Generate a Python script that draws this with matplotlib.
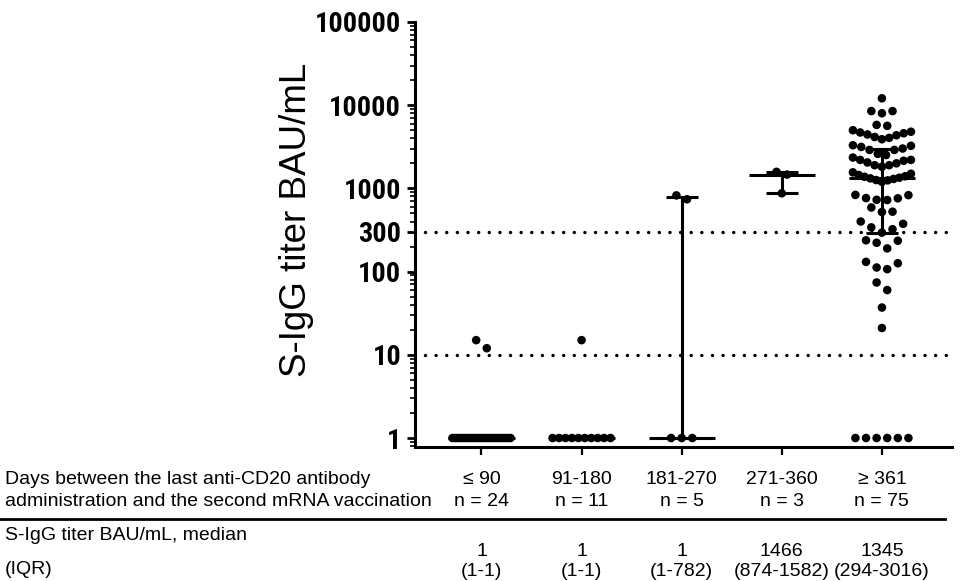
import numpy as np
import matplotlib
matplotlib.use("Agg")
import matplotlib.pyplot as plt
from matplotlib.ticker import LogLocator, NullFormatter, FixedLocator, FixedFormatter
from matplotlib.transforms import blended_transform_factory
from matplotlib.font_manager import FontProperties, fontManager, weight_dict
from matplotlib.textpath import TextPath

# ---------------- data ----------------
categories = ["\u2264 90", "91-180", "181-270", "271-360", "\u2265 361"]
n_labels = ["n = 24", "n = 11", "n = 5", "n = 3", "n = 75"]
median_labels = ["1", "1", "1", "1466", "1345"]
iqr_labels = ["(1-1)", "(1-1)", "(1-782)", "(874-1582)", "(294-3016)"]

medians = [1, 1, 1, 1466, 1345]
q1 = [1, 1, 1, 874, 294]
q3 = [1, 1, 782, 1582, 3016]

g_le90 = [1] * 22 + [12, 15]
g_91_180 = [1] * 10 + [15]
g_181_270 = [1, 1, 1, 740, 824]
g_271_360 = [874, 1466, 1582]
g_ge361 = ([1] * 6 +
           [21, 37, 60, 74,
            107, 112, 126, 131,
            190, 222, 235, 238,
            294, 323, 340, 375, 400,
            520, 525, 590,
            725, 730, 760, 765, 830, 835,
            1200, 1250, 1260, 1300, 1320, 1345, 1380, 1400, 1450, 1500, 1560,
            1820, 1900, 1900, 2000, 2050, 2150, 2200, 2200, 2350,
            2520, 2600, 2900, 2900, 3016, 3150, 3250, 3300,
            3900, 4050, 4150, 4350, 4450, 4600, 4700, 4800, 5000,
            5650, 5800,
            8000, 8500, 8500,
            12100])
groups = [g_le90, g_91_180, g_181_270, g_271_360, g_ge361]

thresholds = [10, 300]
ytick_vals = [1, 10, 100, 300, 1000, 10000, 100000]
ytick_labels = ["1", "10", "100", "300", "1000", "10000", "100000"]


# ---------------- pick a narrow bold font for tick labels ----------------
def _w(f):
    w = f.weight
    if isinstance(w, str):
        w = weight_dict.get(w, 400)
    return w


def pick_tick_font(target_w=83.0, target_h=20.5):
    best = None
    seen = set()
    for f in fontManager.ttflist:
        name = f.name
        if "Mono" in name or "CJK" in name or "Serif" in name:
            continue
        if not ("Sans" in name or name in ("Roboto", "Roboto Condensed", "Lato", "Inter", "Arimo")):
            continue
        wt = _w(f)
        if f.style != "normal" or wt < 600:
            continue
        if f.fname in seen:
            continue
        seen.add(f.fname)
        try:
            tp = TextPath((0, 0), "100000", prop=FontProperties(fname=f.fname), size=100)
            bb = tp.get_extents()
        except Exception:
            continue
        if bb.height <= 0:
            continue
        ratio = bb.width / bb.height
        score = abs(np.log(ratio / (target_w / target_h)))
        if wt < 700:
            score += 0.25
        elif wt > 800:
            score += 0.05
        if best is None or score < best[0]:
            best = (score, f.fname, bb.width / 100.0, bb.height / 100.0)
    if best is None:
        return FontProperties(family="DejaVu Sans", weight="bold"), 17
    _, fname, w_em, h_em = best
    size_h = target_h * 0.72 / h_em
    size_w = target_w * 0.72 / w_em
    return FontProperties(fname=fname), float(np.sqrt(size_h * size_w))


tick_fp, tick_size = pick_tick_font()

# ---------------- figure ----------------
W, H = 966, 581
fig = plt.figure(figsize=(W / 100, H / 100), dpi=100)
ax = fig.add_axes([415 / W, 1 - 447 / H, (952 - 415) / W, (447 - 22) / H])
ax.set_yscale("log")
ax.set_xlim(-0.664, 4.70)
ax.set_ylim(10 ** -0.108, 1e5)

for s in ["top", "right"]:
    ax.spines[s].set_visible(False)
for s in ["left", "bottom"]:
    ax.spines[s].set_linewidth(2.2)

ax.set_xticks(range(len(categories)))
ax.set_xticklabels([""] * len(categories))
ax.tick_params(axis="x", direction="out", length=6, width=1.6)

ax.yaxis.set_major_locator(FixedLocator(ytick_vals))
ax.yaxis.set_major_formatter(FixedFormatter(ytick_labels))
ax.yaxis.set_minor_locator(LogLocator(base=10, subs=np.arange(2, 10), numticks=20))
ax.yaxis.set_minor_formatter(NullFormatter())
ax.tick_params(axis="y", which="major", direction="out", length=6, width=2.0, pad=4)
ax.tick_params(axis="y", which="minor", direction="out", length=3.5, width=1.2)
for lab in ax.get_yticklabels():
    lab.set_fontproperties(tick_fp)
    lab.set_fontsize(tick_size)

# threshold dotted lines
for t in thresholds:
    ax.axhline(t, xmin=(425 - 415) / 537, xmax=(951 - 415) / 537, color="black",
               lw=2.5, ls=(0, (0.001, 3.06)), dash_capstyle="round", zorder=1)

# ---------------- swarm layout ----------------
fig.canvas.draw()
px_per_unit = ax.transData.transform((1, 1))[0] - ax.transData.transform((0, 1))[0]


def row_offsets(values, h=0.135, step_px=10.6, maxspan_px=58):
    vals = np.sort(np.asarray(values, dtype=float))
    logs = np.log10(vals)
    xs, ys = [], []
    i = 0
    while i < len(vals):
        j = i
        while j < len(vals) and logs[j] - logs[i] < h:
            j += 1
        row = vals[i:j]
        n = len(row)
        step = step_px if n < 2 else min(step_px, maxspan_px / (n - 1))
        slots = np.arange(n) - (n - 1) / 2.0
        order = sorted(slots, key=lambda s: (abs(s), -s))
        for v, s in zip(row, order):
            xs.append(s * step / px_per_unit)
            ys.append(v)
        i = j
    return np.array(xs), np.array(ys)


for k, g in enumerate(groups):
    dx, yv = row_offsets(g)
    ax.scatter(k + dx, yv, s=38, color="black", edgecolors="none", zorder=4,
               clip_on=False)
    # median and IQR
    ax.plot([k - 0.33, k + 0.33], [medians[k]] * 2, color="black", lw=2.2,
            solid_capstyle="butt", zorder=3)
    ax.plot([k - 0.16, k + 0.16], [q1[k]] * 2, color="black", lw=2.2,
            solid_capstyle="butt", zorder=3)
    ax.plot([k - 0.16, k + 0.16], [q3[k]] * 2, color="black", lw=2.2,
            solid_capstyle="butt", zorder=3)
    ax.plot([k, k], [q1[k], q3[k]], color="black", lw=2.2, zorder=3)

# y label
fig.text(296 / W, 1 - 220 / H, "S-IgG titer BAU/mL", rotation=90, ha="center",
         va="center", fontsize=26.5, family=["Liberation Sans", "DejaVu Sans"])

# ---------------- table below ----------------
tf = dict(fontsize=14, family=["Liberation Sans", "DejaVu Sans"], color="black")
trans = blended_transform_factory(ax.transData, fig.transFigure)


def fy(ypx):
    return 1 - ypx / H


fig.text(5 / W, fy(479), "Days between the last anti-CD20 antibody", ha="left", va="center", **tf)
fig.text(5 / W, fy(501), "administration and the second mRNA vaccination", ha="left", va="center", **tf)
fig.text(5 / W, fy(536), "S-IgG titer BAU/mL, median", ha="left", va="center", **tf)
fig.text(5 / W, fy(570), "(IQR)", ha="left", va="center", **tf)
for k in range(len(categories)):
    ax.text(k, fy(479), categories[k], transform=trans, ha="center", va="center", **tf)
    ax.text(k, fy(501), n_labels[k], transform=trans, ha="center", va="center", **tf)
    ax.text(k, fy(552), median_labels[k], transform=trans, ha="center", va="center", **tf)
    ax.text(k, fy(572), iqr_labels[k], transform=trans, ha="center", va="center", **tf)

fig.add_artist(plt.Line2D([0, 945 / W], [fy(519), fy(519)], color="black", lw=2.0,
                          transform=fig.transFigure))

fig.savefig("out.png", dpi=100)
